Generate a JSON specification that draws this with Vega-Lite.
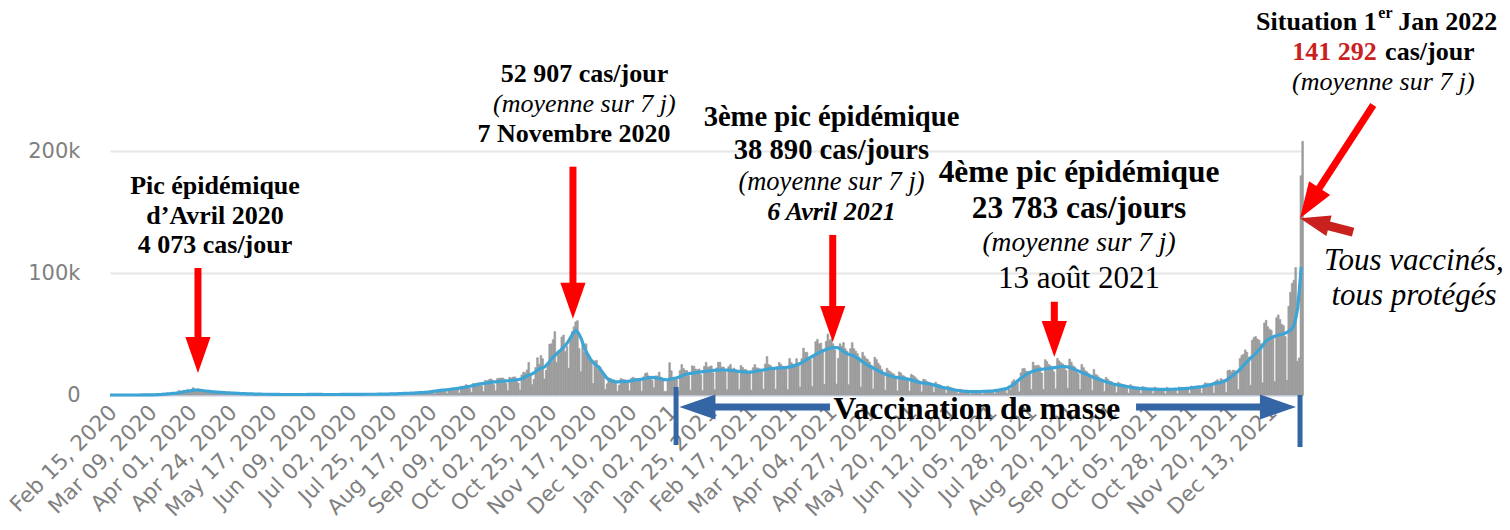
{
"$schema":"https://vega.github.io/schema/vega-lite/v6.json",
"width":1193,"height":256,
"autosize":{"type":"none"},
"padding":{"left":110,"top":139,"right":207,"bottom":135},
"background":"#ffffff",
"config":{"view":{"stroke":null}},
"datasets":{
"cases":[
{"d":"2020-02-13","c":0,"m":0},{"d":"2020-02-14","c":0,"m":0},{"d":"2020-02-15","c":0,"m":0},{"d":"2020-02-16","c":0,"m":0},{"d":"2020-02-17","c":0,"m":0},{"d":"2020-02-18","c":0,"m":0},{"d":"2020-02-19","c":0,"m":0},{"d":"2020-02-20","c":0,"m":0},{"d":"2020-02-21","c":0,"m":0},{"d":"2020-02-22","c":0,"m":0},{"d":"2020-02-23","c":0,"m":0},{"d":"2020-02-24","c":0,"m":0},{"d":"2020-02-25","c":0.01,"m":0},{"d":"2020-02-26","c":0.01,"m":0.01},{"d":"2020-02-27","c":0.02,"m":0.01},{"d":"2020-02-28","c":0.04,"m":0.01},{"d":"2020-02-29","c":0.04,"m":0.02},
{"d":"2020-03-01","c":0.03,"m":0.02},{"d":"2020-03-02","c":0.04,"m":0.03},{"d":"2020-03-03","c":0.06,"m":0.03},{"d":"2020-03-04","c":0.07,"m":0.04},{"d":"2020-03-05","c":0.14,"m":0.06},{"d":"2020-03-06","c":0.1,"m":0.08},{"d":"2020-03-07","c":0.18,"m":0.09},{"d":"2020-03-08","c":0.2,"m":0.11},{"d":"2020-03-09","c":0.3,"m":0.15},{"d":"2020-03-10","c":0.4,"m":0.2},{"d":"2020-03-11","c":0.5,"m":0.26},{"d":"2020-03-12","c":0.6,"m":0.33},{"d":"2020-03-13","c":0.8,"m":0.43},{"d":"2020-03-14","c":0.8,"m":0.54},{"d":"2020-03-15","c":0.9,"m":0.64},{"d":"2020-03-16","c":1.2,"m":0.79},{"d":"2020-03-17","c":1.1,"m":0.91},{"d":"2020-03-18","c":1.4,"m":1.04},{"d":"2020-03-19","c":1.9,"m":1.2},{"d":"2020-03-20","c":1.6,"m":1.3},{"d":"2020-03-21","c":1.8,"m":1.4},{"d":"2020-03-22","c":1.6,"m":1.5},{"d":"2020-03-23","c":3.8,"m":1.8},{"d":"2020-03-24","c":2.4,"m":2.0},{"d":"2020-03-25","c":2.9,"m":2.3},{"d":"2020-03-26","c":3.9,"m":2.6},{"d":"2020-03-27","c":3.8,"m":2.9},{"d":"2020-03-28","c":4.6,"m":3.1},{"d":"2020-03-29","c":2.6,"m":3.2},{"d":"2020-03-30","c":4.4,"m":3.4},{"d":"2020-03-31","c":6.0,"m":3.7},
{"d":"2020-04-01","c":4.9,"m":4.0},{"d":"2020-04-02","c":3.9,"m":4.1},{"d":"2020-04-03","c":5.0,"m":4.1},{"d":"2020-04-04","c":4.3,"m":4.0},{"d":"2020-04-05","c":2.5,"m":3.9},{"d":"2020-04-06","c":3.5,"m":3.7},{"d":"2020-04-07","c":3.4,"m":3.5},{"d":"2020-04-08","c":3.6,"m":3.3},{"d":"2020-04-09","c":3.2,"m":3.1},{"d":"2020-04-10","c":3.0,"m":3.0},{"d":"2020-04-11","c":2.6,"m":2.8},{"d":"2020-04-12","c":2.3,"m":2.6},{"d":"2020-04-13","c":2.2,"m":2.5},{"d":"2020-04-14","c":2.8,"m":2.4},{"d":"2020-04-15","c":2.4,"m":2.3},{"d":"2020-04-16","c":2.1,"m":2.2},{"d":"2020-04-17","c":1.9,"m":2.1},{"d":"2020-04-18","c":1.8,"m":2.0},{"d":"2020-04-19","c":1.2,"m":1.9},{"d":"2020-04-20","c":1.9,"m":1.8},{"d":"2020-04-21","c":2.0,"m":1.8},{"d":"2020-04-22","c":1.7,"m":1.7},{"d":"2020-04-23","c":1.6,"m":1.6},{"d":"2020-04-24","c":1.5,"m":1.5},{"d":"2020-04-25","c":1.4,"m":1.5},{"d":"2020-04-26","c":0.9,"m":1.4},{"d":"2020-04-27","c":1.3,"m":1.3},{"d":"2020-04-28","c":0.9,"m":1.2},{"d":"2020-04-29","c":1.2,"m":1.2},{"d":"2020-04-30","c":1.0,"m":1.1},
{"d":"2020-05-01","c":0.9,"m":1.1},{"d":"2020-05-02","c":0.8,"m":1.0},{"d":"2020-05-03","c":0.6,"m":1.0},{"d":"2020-05-04","c":0.8,"m":0.9},{"d":"2020-05-05","c":0.9,"m":0.9},{"d":"2020-05-06","c":0.8,"m":0.8},{"d":"2020-05-07","c":0.7,"m":0.8},{"d":"2020-05-08","c":0.6,"m":0.7},{"d":"2020-05-09","c":0.6,"m":0.7},{"d":"2020-05-10","c":0.4,"m":0.7},{"d":"2020-05-11","c":0.5,"m":0.6},{"d":"2020-05-12","c":0.6,"m":0.6},{"d":"2020-05-13","c":0.6,"m":0.6},{"d":"2020-05-14","c":0.5,"m":0.6},{"d":"2020-05-15","c":0.5,"m":0.5},{"d":"2020-05-16","c":0.4,"m":0.5},{"d":"2020-05-17","c":0.3,"m":0.5},{"d":"2020-05-18","c":0.4,"m":0.5},{"d":"2020-05-19","c":0.5,"m":0.5},{"d":"2020-05-20","c":0.5,"m":0.5},{"d":"2020-05-21","c":0.4,"m":0.4},{"d":"2020-05-22","c":0.4,"m":0.4},{"d":"2020-05-23","c":0.3,"m":0.4},{"d":"2020-05-24","c":0.3,"m":0.4},{"d":"2020-05-25","c":0.3,"m":0.4},{"d":"2020-05-26","c":0.4,"m":0.4},{"d":"2020-05-27","c":0.4,"m":0.4},{"d":"2020-05-28","c":0.3,"m":0.4},{"d":"2020-05-29","c":0.4,"m":0.4},{"d":"2020-05-30","c":0.4,"m":0.4},{"d":"2020-05-31","c":0.3,"m":0.4},
{"d":"2020-06-01","c":0.3,"m":0.4},{"d":"2020-06-02","c":0.5,"m":0.4},{"d":"2020-06-03","c":0.5,"m":0.4},{"d":"2020-06-04","c":0.5,"m":0.4},{"d":"2020-06-05","c":0.6,"m":0.4},{"d":"2020-06-06","c":0.5,"m":0.5},{"d":"2020-06-07","c":0.4,"m":0.5},{"d":"2020-06-08","c":0.3,"m":0.5},{"d":"2020-06-09","c":0.5,"m":0.5},{"d":"2020-06-10","c":0.5,"m":0.5},{"d":"2020-06-11","c":0.5,"m":0.5},{"d":"2020-06-12","c":0.5,"m":0.5},{"d":"2020-06-13","c":0.4,"m":0.5},{"d":"2020-06-14","c":0.4,"m":0.5},{"d":"2020-06-15","c":0.3,"m":0.4},{"d":"2020-06-16","c":0.4,"m":0.4},{"d":"2020-06-17","c":0.5,"m":0.4},{"d":"2020-06-18","c":0.5,"m":0.4},{"d":"2020-06-19","c":0.5,"m":0.4},{"d":"2020-06-20","c":0.4,"m":0.4},{"d":"2020-06-21","c":0.3,"m":0.4},{"d":"2020-06-22","c":0.3,"m":0.4},{"d":"2020-06-23","c":0.5,"m":0.4},{"d":"2020-06-24","c":0.5,"m":0.4},{"d":"2020-06-25","c":0.5,"m":0.5},{"d":"2020-06-26","c":0.6,"m":0.5},{"d":"2020-06-27","c":0.5,"m":0.5},{"d":"2020-06-28","c":0.4,"m":0.5},{"d":"2020-06-29","c":0.3,"m":0.5},{"d":"2020-06-30","c":0.5,"m":0.5},
{"d":"2020-07-01","c":0.6,"m":0.5},{"d":"2020-07-02","c":0.6,"m":0.5},{"d":"2020-07-03","c":0.6,"m":0.5},{"d":"2020-07-04","c":0.5,"m":0.5},{"d":"2020-07-05","c":0.4,"m":0.5},{"d":"2020-07-06","c":0.4,"m":0.5},{"d":"2020-07-07","c":0.6,"m":0.5},{"d":"2020-07-08","c":0.6,"m":0.5},{"d":"2020-07-09","c":0.7,"m":0.6},{"d":"2020-07-10","c":0.7,"m":0.6},{"d":"2020-07-11","c":0.6,"m":0.6},{"d":"2020-07-12","c":0.5,"m":0.6},{"d":"2020-07-13","c":0.4,"m":0.6},{"d":"2020-07-14","c":0.6,"m":0.6},{"d":"2020-07-15","c":0.7,"m":0.6},{"d":"2020-07-16","c":0.8,"m":0.7},{"d":"2020-07-17","c":0.8,"m":0.7},{"d":"2020-07-18","c":0.8,"m":0.7},{"d":"2020-07-19","c":0.6,"m":0.7},{"d":"2020-07-20","c":0.5,"m":0.8},{"d":"2020-07-21","c":0.9,"m":0.8},{"d":"2020-07-22","c":1.0,"m":0.8},{"d":"2020-07-23","c":1.1,"m":0.9},{"d":"2020-07-24","c":1.1,"m":0.9},{"d":"2020-07-25","c":1.0,"m":1.0},{"d":"2020-07-26","c":0.8,"m":1.0},{"d":"2020-07-27","c":0.6,"m":1.0},{"d":"2020-07-28","c":1.2,"m":1.1},{"d":"2020-07-29","c":1.4,"m":1.1},{"d":"2020-07-30","c":1.4,"m":1.2},{"d":"2020-07-31","c":1.5,"m":1.3},
{"d":"2020-08-01","c":1.4,"m":1.3},{"d":"2020-08-02","c":1.1,"m":1.4},{"d":"2020-08-03","c":0.5,"m":1.4},{"d":"2020-08-04","c":1.9,"m":1.5},{"d":"2020-08-05","c":1.8,"m":1.5},{"d":"2020-08-06","c":1.9,"m":1.6},{"d":"2020-08-07","c":2.0,"m":1.7},{"d":"2020-08-08","c":2.0,"m":1.8},{"d":"2020-08-09","c":1.5,"m":1.9},{"d":"2020-08-10","c":0.6,"m":1.9},{"d":"2020-08-11","c":2.5,"m":2.0},{"d":"2020-08-12","c":2.5,"m":2.1},{"d":"2020-08-13","c":2.7,"m":2.2},{"d":"2020-08-14","c":2.8,"m":2.4},{"d":"2020-08-15","c":2.9,"m":2.6},{"d":"2020-08-16","c":2.2,"m":2.8},{"d":"2020-08-17","c":0.9,"m":3.0},{"d":"2020-08-18","c":4.0,"m":3.2},{"d":"2020-08-19","c":4.1,"m":3.4},{"d":"2020-08-20","c":4.5,"m":3.6},{"d":"2020-08-21","c":4.4,"m":3.8},{"d":"2020-08-22","c":4.4,"m":4.0},{"d":"2020-08-23","c":3.3,"m":4.1},{"d":"2020-08-24","c":1.3,"m":4.2},{"d":"2020-08-25","c":5.3,"m":4.3},{"d":"2020-08-26","c":5.2,"m":4.5},{"d":"2020-08-27","c":5.8,"m":4.7},{"d":"2020-08-28","c":5.6,"m":4.9},{"d":"2020-08-29","c":5.4,"m":5.1},{"d":"2020-08-30","c":4.2,"m":5.3},{"d":"2020-08-31","c":1.6,"m":5.5},
{"d":"2020-09-01","c":7.2,"m":5.7},{"d":"2020-09-02","c":7.0,"m":5.9},{"d":"2020-09-03","c":7.4,"m":6.1},{"d":"2020-09-04","c":8.5,"m":6.4},{"d":"2020-09-05","c":7.8,"m":6.7},{"d":"2020-09-06","c":5.6,"m":7.0},{"d":"2020-09-07","c":2.2,"m":7.2},{"d":"2020-09-08","c":9.5,"m":7.5},{"d":"2020-09-09","c":9.4,"m":7.8},{"d":"2020-09-10","c":9.8,"m":8.1},{"d":"2020-09-11","c":9.9,"m":8.4},{"d":"2020-09-12","c":10.0,"m":8.7},{"d":"2020-09-13","c":7.5,"m":9.0},{"d":"2020-09-14","c":2.8,"m":9.3},{"d":"2020-09-15","c":12.0,"m":9.5},{"d":"2020-09-16","c":11.6,"m":9.7},{"d":"2020-09-17","c":12.4,"m":9.9},{"d":"2020-09-18","c":13.2,"m":10.1},{"d":"2020-09-19","c":12.5,"m":10.3},{"d":"2020-09-20","c":8.4,"m":10.5},{"d":"2020-09-21","c":3.4,"m":10.7},{"d":"2020-09-22","c":13.5,"m":10.8},{"d":"2020-09-23","c":13.8,"m":11.0},{"d":"2020-09-24","c":13.9,"m":11.1},{"d":"2020-09-25","c":14.0,"m":11.2},{"d":"2020-09-26","c":13.0,"m":11.4},{"d":"2020-09-27","c":9.5,"m":11.5},{"d":"2020-09-28","c":3.5,"m":11.6},{"d":"2020-09-29","c":14.5,"m":11.7},{"d":"2020-09-30","c":13.9,"m":11.9},
{"d":"2020-10-01","c":14.7,"m":12.0},{"d":"2020-10-02","c":14.9,"m":12.1},{"d":"2020-10-03","c":13.5,"m":12.3},{"d":"2020-10-04","c":9.8,"m":12.5},{"d":"2020-10-05","c":4.0,"m":12.7},{"d":"2020-10-06","c":16.5,"m":13.0},{"d":"2020-10-07","c":18.8,"m":13.6},{"d":"2020-10-08","c":18.2,"m":14.2},{"d":"2020-10-09","c":20.6,"m":15.0},{"d":"2020-10-10","c":26.8,"m":15.8},{"d":"2020-10-11","c":16.1,"m":16.5},{"d":"2020-10-12","c":8.5,"m":16.8},{"d":"2020-10-13","c":12.9,"m":17.5},{"d":"2020-10-14","c":22.6,"m":18.5},{"d":"2020-10-15","c":30.6,"m":19.5},{"d":"2020-10-16","c":25.1,"m":20.5},{"d":"2020-10-17","c":32.4,"m":21.5},{"d":"2020-10-18","c":29.8,"m":22.0},{"d":"2020-10-19","c":13.2,"m":22.5},{"d":"2020-10-20","c":20.4,"m":23.0},{"d":"2020-10-21","c":26.7,"m":24.5},{"d":"2020-10-22","c":41.6,"m":26.0},{"d":"2020-10-23","c":42.0,"m":28.0},{"d":"2020-10-24","c":45.4,"m":30.0},{"d":"2020-10-25","c":52.0,"m":31.5},{"d":"2020-10-26","c":26.8,"m":32.5},{"d":"2020-10-27","c":33.4,"m":34.0},{"d":"2020-10-28","c":36.4,"m":35.5},{"d":"2020-10-29","c":47.6,"m":36.5},{"d":"2020-10-30","c":49.2,"m":38.0},{"d":"2020-10-31","c":35.6,"m":39.5},
{"d":"2020-11-01","c":40.0,"m":41.0},{"d":"2020-11-02","c":22.0,"m":43.0},{"d":"2020-11-03","c":45.0,"m":45.0},{"d":"2020-11-04","c":52.0,"m":47.5},{"d":"2020-11-05","c":56.0,"m":50.0},{"d":"2020-11-06","c":60.0,"m":52.0},{"d":"2020-11-07","c":61.0,"m":52.9},{"d":"2020-11-08","c":38.0,"m":51.5},{"d":"2020-11-09","c":19.0,"m":49.0},{"d":"2020-11-10","c":44.0,"m":46.0},{"d":"2020-11-11","c":35.0,"m":42.0},{"d":"2020-11-12","c":42.0,"m":38.0},{"d":"2020-11-13","c":33.0,"m":35.0},{"d":"2020-11-14","c":32.0,"m":32.5},{"d":"2020-11-15","c":27.0,"m":30.0},{"d":"2020-11-16","c":9.4,"m":28.0},{"d":"2020-11-17","c":28.0,"m":26.5},{"d":"2020-11-18","c":28.4,"m":25.0},{"d":"2020-11-19","c":21.0,"m":24.0},{"d":"2020-11-20","c":23.0,"m":23.0},{"d":"2020-11-21","c":19.0,"m":21.0},{"d":"2020-11-22","c":16.0,"m":19.0},{"d":"2020-11-23","c":4.5,"m":17.0},{"d":"2020-11-24","c":9.2,"m":15.0},{"d":"2020-11-25","c":14.0,"m":13.5},{"d":"2020-11-26","c":13.6,"m":12.5},{"d":"2020-11-27","c":12.5,"m":11.8},{"d":"2020-11-28","c":12.5,"m":11.3},{"d":"2020-11-29","c":11.0,"m":11.0},{"d":"2020-11-30","c":3.0,"m":10.8},
{"d":"2020-12-01","c":8.1,"m":10.8},{"d":"2020-12-02","c":13.5,"m":10.9},{"d":"2020-12-03","c":13.0,"m":11.0},{"d":"2020-12-04","c":12.6,"m":11.0},{"d":"2020-12-05","c":11.5,"m":11.0},{"d":"2020-12-06","c":11.0,"m":11.1},{"d":"2020-12-07","c":3.4,"m":11.2},{"d":"2020-12-08","c":13.7,"m":11.5},{"d":"2020-12-09","c":14.6,"m":11.8},{"d":"2020-12-10","c":13.8,"m":12.0},{"d":"2020-12-11","c":13.4,"m":12.2},{"d":"2020-12-12","c":12.9,"m":12.4},{"d":"2020-12-13","c":11.5,"m":12.6},{"d":"2020-12-14","c":3.1,"m":12.8},{"d":"2020-12-15","c":14.9,"m":13.0},{"d":"2020-12-16","c":17.6,"m":13.3},{"d":"2020-12-17","c":18.2,"m":13.6},{"d":"2020-12-18","c":15.7,"m":14.0},{"d":"2020-12-19","c":13.7,"m":14.2},{"d":"2020-12-20","c":12.0,"m":14.3},{"d":"2020-12-21","c":5.9,"m":14.4},{"d":"2020-12-22","c":15.7,"m":14.3},{"d":"2020-12-23","c":15.6,"m":14.0},{"d":"2020-12-24","c":18.7,"m":13.8},{"d":"2020-12-25","c":14.6,"m":13.6},{"d":"2020-12-26","c":12.5,"m":13.2},{"d":"2020-12-27","c":3.0,"m":12.8},{"d":"2020-12-28","c":2.9,"m":12.6},{"d":"2020-12-29","c":11.4,"m":12.5},{"d":"2020-12-30","c":26.5,"m":12.6},{"d":"2020-12-31","c":19.9,"m":13.0},
{"d":"2021-01-01","c":14.0,"m":13.2},{"d":"2021-01-02","c":12.5,"m":13.5},{"d":"2021-01-03","c":12.6,"m":13.8},{"d":"2021-01-04","c":3.4,"m":14.2},{"d":"2021-01-05","c":20.0,"m":14.6},{"d":"2021-01-06","c":25.0,"m":15.2},{"d":"2021-01-07","c":21.7,"m":15.8},{"d":"2021-01-08","c":20.2,"m":16.5},{"d":"2021-01-09","c":20.0,"m":17.0},{"d":"2021-01-10","c":15.9,"m":17.3},{"d":"2021-01-11","c":3.9,"m":17.5},{"d":"2021-01-12","c":23.9,"m":17.8},{"d":"2021-01-13","c":23.6,"m":18.0},{"d":"2021-01-14","c":21.3,"m":18.2},{"d":"2021-01-15","c":20.6,"m":18.4},{"d":"2021-01-16","c":21.4,"m":18.6},{"d":"2021-01-17","c":16.6,"m":18.8},{"d":"2021-01-18","c":3.7,"m":19.0},{"d":"2021-01-19","c":23.6,"m":19.2},{"d":"2021-01-20","c":26.8,"m":19.4},{"d":"2021-01-21","c":22.8,"m":19.6},{"d":"2021-01-22","c":23.3,"m":19.8},{"d":"2021-01-23","c":23.9,"m":20.0},{"d":"2021-01-24","c":18.3,"m":20.1},{"d":"2021-01-25","c":4.2,"m":20.2},{"d":"2021-01-26","c":22.2,"m":20.3},{"d":"2021-01-27","c":26.9,"m":20.4},{"d":"2021-01-28","c":26.9,"m":20.4},{"d":"2021-01-29","c":22.9,"m":20.5},{"d":"2021-01-30","c":23.0,"m":20.5},{"d":"2021-01-31","c":19.2,"m":20.5},
{"d":"2021-02-01","c":4.3,"m":20.5},{"d":"2021-02-02","c":23.3,"m":20.4},{"d":"2021-02-03","c":25.0,"m":20.3},{"d":"2021-02-04","c":21.1,"m":20.2},{"d":"2021-02-05","c":22.1,"m":20.1},{"d":"2021-02-06","c":20.6,"m":19.9},{"d":"2021-02-07","c":19.7,"m":19.7},{"d":"2021-02-08","c":4.3,"m":19.5},{"d":"2021-02-09","c":24.3,"m":19.3},{"d":"2021-02-10","c":22.6,"m":19.1},{"d":"2021-02-11","c":21.0,"m":19.0},{"d":"2021-02-12","c":20.8,"m":18.9},{"d":"2021-02-13","c":19.0,"m":18.8},{"d":"2021-02-14","c":18.1,"m":18.8},{"d":"2021-02-15","c":4.0,"m":18.8},{"d":"2021-02-16","c":22.4,"m":18.9},{"d":"2021-02-17","c":25.0,"m":19.1},{"d":"2021-02-18","c":22.3,"m":19.4},{"d":"2021-02-19","c":22.0,"m":19.7},{"d":"2021-02-20","c":21.0,"m":20.0},{"d":"2021-02-21","c":19.0,"m":20.2},{"d":"2021-02-22","c":4.8,"m":20.4},{"d":"2021-02-23","c":25.4,"m":20.6},{"d":"2021-02-24","c":31.5,"m":20.9},{"d":"2021-02-25","c":25.0,"m":21.2},{"d":"2021-02-26","c":24.2,"m":21.5},{"d":"2021-02-27","c":22.0,"m":21.7},{"d":"2021-02-28","c":21.1,"m":21.8},
{"d":"2021-03-01","c":4.7,"m":21.9},{"d":"2021-03-02","c":23.3,"m":22.0},{"d":"2021-03-03","c":26.8,"m":22.1},{"d":"2021-03-04","c":25.3,"m":22.2},{"d":"2021-03-05","c":23.5,"m":22.3},{"d":"2021-03-06","c":23.3,"m":22.4},{"d":"2021-03-07","c":21.8,"m":22.5},{"d":"2021-03-08","c":4.4,"m":22.6},{"d":"2021-03-09","c":29.9,"m":22.8},{"d":"2021-03-10","c":26.6,"m":23.1},{"d":"2021-03-11","c":25.2,"m":23.5},{"d":"2021-03-12","c":25.2,"m":23.9},{"d":"2021-03-13","c":29.8,"m":24.3},{"d":"2021-03-14","c":26.3,"m":24.8},{"d":"2021-03-15","c":6.5,"m":25.3},{"d":"2021-03-16","c":29.9,"m":26.0},{"d":"2021-03-17","c":38.5,"m":26.8},{"d":"2021-03-18","c":34.9,"m":27.6},{"d":"2021-03-19","c":35.1,"m":28.5},{"d":"2021-03-20","c":30.6,"m":29.4},{"d":"2021-03-21","c":29.3,"m":30.2},{"d":"2021-03-22","c":7.0,"m":31.0},{"d":"2021-03-23","c":30.9,"m":31.8},{"d":"2021-03-24","c":43.7,"m":32.6},{"d":"2021-03-25","c":45.6,"m":33.4},{"d":"2021-03-26","c":41.9,"m":34.2},{"d":"2021-03-27","c":42.6,"m":35.0},{"d":"2021-03-28","c":37.0,"m":35.7},{"d":"2021-03-29","c":8.8,"m":36.3},{"d":"2021-03-30","c":44.0,"m":36.9},{"d":"2021-03-31","c":50.0,"m":37.4},
{"d":"2021-04-01","c":45.0,"m":38.0},{"d":"2021-04-02","c":46.0,"m":38.4},{"d":"2021-04-03","c":42.0,"m":38.7},{"d":"2021-04-04","c":37.0,"m":38.9},{"d":"2021-04-05","c":9.0,"m":38.9},{"d":"2021-04-06","c":30.0,"m":38.9},{"d":"2021-04-07","c":42.0,"m":38.5},{"d":"2021-04-08","c":40.0,"m":37.5},{"d":"2021-04-09","c":43.0,"m":36.5},{"d":"2021-04-10","c":38.0,"m":35.5},{"d":"2021-04-11","c":36.0,"m":34.5},{"d":"2021-04-12","c":8.5,"m":33.8},{"d":"2021-04-13","c":38.0,"m":33.2},{"d":"2021-04-14","c":43.0,"m":33.0},{"d":"2021-04-15","c":38.0,"m":32.5},{"d":"2021-04-16","c":36.0,"m":31.8},{"d":"2021-04-17","c":34.0,"m":31.0},{"d":"2021-04-18","c":31.0,"m":30.0},{"d":"2021-04-19","c":6.5,"m":29.0},{"d":"2021-04-20","c":35.0,"m":28.0},{"d":"2021-04-21","c":32.0,"m":27.0},{"d":"2021-04-22","c":30.0,"m":26.0},{"d":"2021-04-23","c":29.0,"m":25.0},{"d":"2021-04-24","c":27.0,"m":24.2},{"d":"2021-04-25","c":24.5,"m":23.5},{"d":"2021-04-26","c":5.0,"m":22.8},{"d":"2021-04-27","c":31.0,"m":22.0},{"d":"2021-04-28","c":29.0,"m":21.2},{"d":"2021-04-29","c":26.0,"m":20.5},{"d":"2021-04-30","c":24.0,"m":19.8},
{"d":"2021-05-01","c":21.0,"m":19.0},{"d":"2021-05-02","c":18.0,"m":18.3},{"d":"2021-05-03","c":4.0,"m":17.6},{"d":"2021-05-04","c":22.0,"m":17.0},{"d":"2021-05-05","c":20.0,"m":16.5},{"d":"2021-05-06","c":19.0,"m":16.0},{"d":"2021-05-07","c":18.0,"m":15.6},{"d":"2021-05-08","c":17.0,"m":15.2},{"d":"2021-05-09","c":15.0,"m":14.8},{"d":"2021-05-10","c":3.3,"m":14.5},{"d":"2021-05-11","c":19.0,"m":14.2},{"d":"2021-05-12","c":18.0,"m":14.0},{"d":"2021-05-13","c":16.0,"m":13.8},{"d":"2021-05-14","c":15.5,"m":13.6},{"d":"2021-05-15","c":14.0,"m":13.4},{"d":"2021-05-16","c":13.0,"m":13.2},{"d":"2021-05-17","c":3.2,"m":13.0},{"d":"2021-05-18","c":17.0,"m":12.6},{"d":"2021-05-19","c":16.0,"m":12.2},{"d":"2021-05-20","c":15.0,"m":11.8},{"d":"2021-05-21","c":13.5,"m":11.4},{"d":"2021-05-22","c":12.0,"m":11.0},{"d":"2021-05-23","c":11.0,"m":10.6},{"d":"2021-05-24","c":2.5,"m":10.3},{"d":"2021-05-25","c":13.0,"m":10.0},{"d":"2021-05-26","c":12.5,"m":9.8},{"d":"2021-05-27","c":11.0,"m":9.6},{"d":"2021-05-28","c":10.5,"m":9.5},{"d":"2021-05-29","c":9.5,"m":9.2},{"d":"2021-05-30","c":9.0,"m":8.9},{"d":"2021-05-31","c":2.0,"m":8.5},
{"d":"2021-06-01","c":10.5,"m":8.1},{"d":"2021-06-02","c":9.0,"m":7.7},{"d":"2021-06-03","c":8.5,"m":7.3},{"d":"2021-06-04","c":8.0,"m":6.9},{"d":"2021-06-05","c":7.0,"m":6.5},{"d":"2021-06-06","c":6.5,"m":6.2},{"d":"2021-06-07","c":1.5,"m":5.9},{"d":"2021-06-08","c":7.3,"m":5.6},{"d":"2021-06-09","c":6.5,"m":5.3},{"d":"2021-06-10","c":5.8,"m":5.0},{"d":"2021-06-11","c":5.4,"m":4.7},{"d":"2021-06-12","c":4.8,"m":4.4},{"d":"2021-06-13","c":4.2,"m":4.1},{"d":"2021-06-14","c":1.0,"m":3.9},{"d":"2021-06-15","c":4.8,"m":3.7},{"d":"2021-06-16","c":4.2,"m":3.5},{"d":"2021-06-17","c":3.8,"m":3.3},{"d":"2021-06-18","c":3.6,"m":3.1},{"d":"2021-06-19","c":3.2,"m":3.0},{"d":"2021-06-20","c":2.9,"m":2.9},{"d":"2021-06-21","c":0.6,"m":2.8},{"d":"2021-06-22","c":3.6,"m":2.7},{"d":"2021-06-23","c":3.2,"m":2.7},{"d":"2021-06-24","c":3.0,"m":2.7},{"d":"2021-06-25","c":2.9,"m":2.7},{"d":"2021-06-26","c":2.9,"m":2.7},{"d":"2021-06-27","c":2.7,"m":2.8},{"d":"2021-06-28","c":0.6,"m":2.8},{"d":"2021-06-29","c":3.5,"m":2.9},{"d":"2021-06-30","c":3.4,"m":3.0},
{"d":"2021-07-01","c":3.6,"m":3.0},{"d":"2021-07-02","c":3.6,"m":3.1},{"d":"2021-07-03","c":3.4,"m":3.2},{"d":"2021-07-04","c":3.2,"m":3.3},{"d":"2021-07-05","c":0.9,"m":3.4},{"d":"2021-07-06","c":4.6,"m":3.6},{"d":"2021-07-07","c":4.5,"m":3.8},{"d":"2021-07-08","c":4.8,"m":4.0},{"d":"2021-07-09","c":5.1,"m":4.3},{"d":"2021-07-10","c":5.0,"m":4.6},{"d":"2021-07-11","c":4.9,"m":4.9},{"d":"2021-07-12","c":1.2,"m":5.2},{"d":"2021-07-13","c":7.3,"m":5.6},{"d":"2021-07-14","c":4.3,"m":6.3},{"d":"2021-07-15","c":10.9,"m":7.2},{"d":"2021-07-16","c":12.6,"m":8.2},{"d":"2021-07-17","c":11.0,"m":9.3},{"d":"2021-07-18","c":10.5,"m":10.5},{"d":"2021-07-19","c":2.5,"m":11.7},{"d":"2021-07-20","c":18.2,"m":12.9},{"d":"2021-07-21","c":21.5,"m":14.0},{"d":"2021-07-22","c":21.9,"m":15.0},{"d":"2021-07-23","c":19.6,"m":16.0},{"d":"2021-07-24","c":19.4,"m":16.9},{"d":"2021-07-25","c":17.6,"m":17.7},{"d":"2021-07-26","c":4.5,"m":18.4},{"d":"2021-07-27","c":27.0,"m":19.0},{"d":"2021-07-28","c":24.0,"m":19.5},{"d":"2021-07-29","c":24.0,"m":20.0},{"d":"2021-07-30","c":24.5,"m":20.4},{"d":"2021-07-31","c":23.0,"m":20.7},
{"d":"2021-08-01","c":18.0,"m":20.9},{"d":"2021-08-02","c":4.5,"m":21.1},{"d":"2021-08-03","c":29.0,"m":21.3},{"d":"2021-08-04","c":27.5,"m":21.5},{"d":"2021-08-05","c":25.0,"m":21.7},{"d":"2021-08-06","c":24.0,"m":21.9},{"d":"2021-08-07","c":22.5,"m":22.1},{"d":"2021-08-08","c":19.0,"m":22.3},{"d":"2021-08-09","c":5.0,"m":22.5},{"d":"2021-08-10","c":30.0,"m":22.7},{"d":"2021-08-11","c":28.0,"m":22.9},{"d":"2021-08-12","c":26.5,"m":23.2},{"d":"2021-08-13","c":25.5,"m":23.5},{"d":"2021-08-14","c":24.0,"m":23.5},{"d":"2021-08-15","c":20.0,"m":23.4},{"d":"2021-08-16","c":5.5,"m":23.2},{"d":"2021-08-17","c":29.5,"m":22.9},{"d":"2021-08-18","c":27.0,"m":22.5},{"d":"2021-08-19","c":24.0,"m":22.0},{"d":"2021-08-20","c":23.0,"m":21.4},{"d":"2021-08-21","c":21.0,"m":20.8},{"d":"2021-08-22","c":17.5,"m":20.2},{"d":"2021-08-23","c":4.5,"m":19.6},{"d":"2021-08-24","c":25.0,"m":19.0},{"d":"2021-08-25","c":22.5,"m":18.4},{"d":"2021-08-26","c":20.0,"m":17.8},{"d":"2021-08-27","c":19.0,"m":17.2},{"d":"2021-08-28","c":17.5,"m":16.6},{"d":"2021-08-29","c":15.0,"m":16.0},{"d":"2021-08-30","c":3.5,"m":15.4},{"d":"2021-08-31","c":21.0,"m":14.8},
{"d":"2021-09-01","c":17.0,"m":14.2},{"d":"2021-09-02","c":16.0,"m":13.7},{"d":"2021-09-03","c":14.5,"m":13.2},{"d":"2021-09-04","c":13.0,"m":12.7},{"d":"2021-09-05","c":11.5,"m":12.2},{"d":"2021-09-06","c":2.8,"m":11.7},{"d":"2021-09-07","c":14.5,"m":11.2},{"d":"2021-09-08","c":13.0,"m":10.7},{"d":"2021-09-09","c":11.5,"m":10.3},{"d":"2021-09-10","c":11.0,"m":9.9},{"d":"2021-09-11","c":9.5,"m":9.4},{"d":"2021-09-12","c":8.5,"m":9.0},{"d":"2021-09-13","c":1.9,"m":8.7},{"d":"2021-09-14","c":10.5,"m":8.4},{"d":"2021-09-15","c":9.5,"m":8.1},{"d":"2021-09-16","c":9.0,"m":7.9},{"d":"2021-09-17","c":8.5,"m":7.7},{"d":"2021-09-18","c":7.5,"m":7.5},{"d":"2021-09-19","c":7.0,"m":7.2},{"d":"2021-09-20","c":1.4,"m":6.9},{"d":"2021-09-21","c":8.5,"m":6.6},{"d":"2021-09-22","c":7.5,"m":6.3},{"d":"2021-09-23","c":7.0,"m":6.1},{"d":"2021-09-24","c":6.5,"m":5.9},{"d":"2021-09-25","c":6.0,"m":5.7},{"d":"2021-09-26","c":5.5,"m":5.6},{"d":"2021-09-27","c":1.2,"m":5.4},{"d":"2021-09-28","c":7.0,"m":5.3},{"d":"2021-09-29","c":6.5,"m":5.2},{"d":"2021-09-30","c":6.0,"m":5.1},
{"d":"2021-10-01","c":5.5,"m":5.0},{"d":"2021-10-02","c":5.0,"m":4.9},{"d":"2021-10-03","c":4.8,"m":4.9},{"d":"2021-10-04","c":1.0,"m":4.8},{"d":"2021-10-05","c":6.5,"m":4.8},{"d":"2021-10-06","c":5.8,"m":4.7},{"d":"2021-10-07","c":5.4,"m":4.7},{"d":"2021-10-08","c":5.2,"m":4.6},{"d":"2021-10-09","c":5.0,"m":4.6},{"d":"2021-10-10","c":4.6,"m":4.6},{"d":"2021-10-11","c":0.9,"m":4.6},{"d":"2021-10-12","c":6.2,"m":4.6},{"d":"2021-10-13","c":5.6,"m":4.6},{"d":"2021-10-14","c":5.4,"m":4.6},{"d":"2021-10-15","c":5.3,"m":4.7},{"d":"2021-10-16","c":5.0,"m":4.7},{"d":"2021-10-17","c":4.8,"m":4.8},{"d":"2021-10-18","c":1.0,"m":4.8},{"d":"2021-10-19","c":6.6,"m":4.9},{"d":"2021-10-20","c":6.1,"m":5.0},{"d":"2021-10-21","c":5.7,"m":5.1},{"d":"2021-10-22","c":5.6,"m":5.2},{"d":"2021-10-23","c":5.4,"m":5.3},{"d":"2021-10-24","c":5.2,"m":5.4},{"d":"2021-10-25","c":1.2,"m":5.5},{"d":"2021-10-26","c":7.4,"m":5.6},{"d":"2021-10-27","c":6.9,"m":5.8},{"d":"2021-10-28","c":6.6,"m":6.0},{"d":"2021-10-29","c":6.4,"m":6.2},{"d":"2021-10-30","c":6.2,"m":6.4},{"d":"2021-10-31","c":5.9,"m":6.6},
{"d":"2021-11-01","c":1.5,"m":6.8},{"d":"2021-11-02","c":8.0,"m":7.0},{"d":"2021-11-03","c":10.0,"m":7.3},{"d":"2021-11-04","c":9.5,"m":7.6},{"d":"2021-11-05","c":9.3,"m":7.9},{"d":"2021-11-06","c":9.0,"m":8.2},{"d":"2021-11-07","c":8.0,"m":8.5},{"d":"2021-11-08","c":1.5,"m":8.9},{"d":"2021-11-09","c":11.5,"m":9.3},{"d":"2021-11-10","c":12.5,"m":9.6},{"d":"2021-11-11","c":11.0,"m":9.9},{"d":"2021-11-12","c":13.5,"m":10.2},{"d":"2021-11-13","c":12.5,"m":10.5},{"d":"2021-11-14","c":11.0,"m":10.9},{"d":"2021-11-15","c":2.0,"m":11.5},{"d":"2021-11-16","c":20.0,"m":12.3},{"d":"2021-11-17","c":20.5,"m":13.2},{"d":"2021-11-18","c":19.0,"m":14.3},{"d":"2021-11-19","c":20.5,"m":15.4},{"d":"2021-11-20","c":20.0,"m":16.5},{"d":"2021-11-21","c":18.5,"m":17.6},{"d":"2021-11-22","c":4.5,"m":18.7},{"d":"2021-11-23","c":30.0,"m":20.0},{"d":"2021-11-24","c":32.5,"m":21.5},{"d":"2021-11-25","c":33.5,"m":23.0},{"d":"2021-11-26","c":37.0,"m":24.5},{"d":"2021-11-27","c":35.0,"m":26.0},{"d":"2021-11-28","c":31.0,"m":27.5},{"d":"2021-11-29","c":8.0,"m":29.0},{"d":"2021-11-30","c":45.0,"m":30.5},
{"d":"2021-12-01","c":47.2,"m":31.5},{"d":"2021-12-02","c":48.0,"m":33.0},{"d":"2021-12-03","c":46.0,"m":34.5},{"d":"2021-12-04","c":45.0,"m":36.0},{"d":"2021-12-05","c":42.0,"m":37.5},{"d":"2021-12-06","c":10.0,"m":39.0},{"d":"2021-12-07","c":59.0,"m":41.0},{"d":"2021-12-08","c":61.3,"m":43.0},{"d":"2021-12-09","c":56.0,"m":44.5},{"d":"2021-12-10","c":54.0,"m":45.5},{"d":"2021-12-11","c":53.0,"m":46.5},{"d":"2021-12-12","c":48.0,"m":47.2},{"d":"2021-12-13","c":11.0,"m":47.8},{"d":"2021-12-14","c":63.4,"m":48.3},{"d":"2021-12-15","c":65.7,"m":48.8},{"d":"2021-12-16","c":62.0,"m":49.2},{"d":"2021-12-17","c":58.0,"m":49.5},{"d":"2021-12-18","c":57.0,"m":49.8},{"d":"2021-12-19","c":48.0,"m":50.2},{"d":"2021-12-20","c":12.0,"m":50.8},{"d":"2021-12-21","c":72.8,"m":51.5},{"d":"2021-12-22","c":84.3,"m":52.5},{"d":"2021-12-23","c":91.6,"m":53.5},{"d":"2021-12-24","c":94.1,"m":55.0},{"d":"2021-12-25","c":104.6,"m":58.0},{"d":"2021-12-26","c":27.7,"m":64.0},{"d":"2021-12-27","c":30.4,"m":72.2},{"d":"2021-12-28","c":179.8,"m":87.5},{"d":"2021-12-29","c":208.1,"m":105.2}
]},
"layer":[
{"data":{"name":"cases"},
 "mark":{"type":"bar","color":"#9c9c9c","stroke":"#9c9c9c","strokeWidth":0.6,"binSpacing":0},
 "encoding":{
  "x":{"field":"d","timeUnit":"utcyearmonthdate","type":"temporal","title":null,
   "scale":{"type":"utc","domain":[{"year":2020,"month":2,"date":13,"utc":true},{"year":2021,"month":12,"date":30,"utc":true}]},
   "axis":{"values":[{"year":2020,"month":2,"date":15,"utc":true},{"year":2020,"month":3,"date":9,"utc":true},{"year":2020,"month":4,"date":1,"utc":true},{"year":2020,"month":4,"date":24,"utc":true},{"year":2020,"month":5,"date":17,"utc":true},{"year":2020,"month":6,"date":9,"utc":true},{"year":2020,"month":7,"date":2,"utc":true},{"year":2020,"month":7,"date":25,"utc":true},{"year":2020,"month":8,"date":17,"utc":true},{"year":2020,"month":9,"date":9,"utc":true},{"year":2020,"month":10,"date":2,"utc":true},{"year":2020,"month":10,"date":25,"utc":true},{"year":2020,"month":11,"date":17,"utc":true},{"year":2020,"month":12,"date":10,"utc":true},{"year":2021,"month":1,"date":2,"utc":true},{"year":2021,"month":1,"date":25,"utc":true},{"year":2021,"month":2,"date":17,"utc":true},{"year":2021,"month":3,"date":12,"utc":true},{"year":2021,"month":4,"date":4,"utc":true},{"year":2021,"month":4,"date":27,"utc":true},{"year":2021,"month":5,"date":20,"utc":true},{"year":2021,"month":6,"date":12,"utc":true},{"year":2021,"month":7,"date":5,"utc":true},{"year":2021,"month":7,"date":28,"utc":true},{"year":2021,"month":8,"date":20,"utc":true},{"year":2021,"month":9,"date":12,"utc":true},{"year":2021,"month":10,"date":5,"utc":true},{"year":2021,"month":10,"date":28,"utc":true},{"year":2021,"month":11,"date":20,"utc":true},{"year":2021,"month":12,"date":13,"utc":true}],
    "format":"%b %d, %Y","labelAngle":-45,"labelAlign":"right","labelBaseline":"middle","labelFont":"DejaVu Sans","labelFontSize":21.5,"labelColor":"#808080","ticks":false,"grid":false,"domainColor":"#ccd6eb","domainWidth":2,"labelPadding":14,"labelOffset":0,"labelOverlap":false,"labelBound":false,"labelFlush":false,"title":null}},
  "y":{"field":"c","type":"quantitative","title":null,
   "scale":{"domain":[0,210],"nice":false,"zero":true},
   "axis":{"values":[0,100,200],"labelExpr":"datum.value == 0 ? '0' : datum.value + 'k'","grid":true,"gridColor":"#e6e6e6","gridWidth":2,"domain":false,"ticks":false,"labelFont":"DejaVu Sans","labelFontSize":21,"labelColor":"#808080","labelPadding":30,"title":null}}
 }},
{"data":{"name":"cases"},
 "mark":{"type":"line","color":"#3da5d5","strokeWidth":3.2},
 "encoding":{
  "x":{"field":"d","timeUnit":"utcyearmonthdate","type":"temporal","title":null},
  "y":{"field":"m","type":"quantitative","title":null}
 }},
{"data":{"values":[
 {"x":"2020-04-03T14:00Z","x2":"2020-04-03T14:00Z","y":104.2,"y2":45.1,"col":"#ff0000","w":7},
 {"x":"2020-11-05T05:00Z","x2":"2020-11-05T05:00Z","y":187.3,"y2":89.4,"col":"#ff0000","w":7},
 {"x":"2021-04-03T14:00Z","x2":"2021-04-03T14:00Z","y":131.3,"y2":68.0,"col":"#ff0000","w":7},
 {"x":"2021-08-09T00:00Z","x2":"2021-08-09T00:00Z","y":76.5,"y2":57.4,"col":"#ff0000","w":7},
 {"x":"2022-02-08T10:00Z","x2":"2022-01-06T12:00Z","y":237.9,"y2":165.7,"col":"#ff0000","w":7},
 {"x":"2022-01-27T19:00Z","x2":"2022-01-11T14:00Z","y":133.7,"y2":139.5,"col":"#c9211e","w":9},
 {"x":"2021-01-03T12:00Z","x2":"2021-01-03T12:00Z","y":6.6,"y2":-41.0,"col":"#3465a4","w":5},
 {"x":"2021-12-28T07:00Z","x2":"2021-12-28T07:00Z","y":0,"y2":-42.7,"col":"#3465a4","w":5},
 {"x":"2021-01-20T02:00Z","x2":"2021-04-02T00:00Z","y":-9.84,"y2":-9.84,"col":"#3465a4","w":7},
 {"x":"2021-09-25T00:00Z","x2":"2021-12-13T22:00Z","y":-9.84,"y2":-9.84,"col":"#3465a4","w":7}
 ]},
 "mark":{"type":"rule","strokeCap":"butt","clip":false},
 "encoding":{
  "x":{"field":"x","type":"temporal","title":null},
  "x2":{"field":"x2"},
  "y":{"field":"y","type":"quantitative","title":null},
  "y2":{"field":"y2"},
  "color":{"field":"col","type":"nominal","scale":null},
  "strokeWidth":{"field":"w","type":"quantitative","scale":null}
 }},
{"data":{"values":[
 {"x":"2020-04-03T14:00Z","y":32.8,"col":"#ff0000","a":0,"s":1296},
 {"x":"2020-11-05T05:00Z","y":77.3,"col":"#ff0000","a":0,"s":1296},
 {"x":"2021-04-03T14:00Z","y":58.2,"col":"#ff0000","a":0,"s":1296},
 {"x":"2021-08-09T00:00Z","y":45.9,"col":"#ff0000","a":0,"s":1296},
 {"x":"2022-01-02T22:00Z","y":157.3,"col":"#ff0000","a":33,"s":1296},
 {"x":"2022-01-05T14:00Z","y":141.9,"col":"#c9211e","a":104.5,"s":900},
 {"x":"2021-01-15T19:00Z","y":-9.84,"col":"#3465a4","a":90,"s":1296},
 {"x":"2021-12-15T14:00Z","y":-9.84,"col":"#3465a4","a":270,"s":1296}
 ]},
 "mark":{"type":"point","shape":"M-0.7,-1L0.7,-1L0,1Z","filled":true,"opacity":1,"strokeWidth":0,"clip":false},
 "encoding":{
  "x":{"field":"x","type":"temporal","title":null},
  "y":{"field":"y","type":"quantitative","title":null},
  "color":{"field":"col","type":"nominal","scale":null},
  "size":{"field":"s","type":"quantitative","scale":null},
  "angle":{"field":"a","type":"quantitative","scale":null}
 }},
{"data":{"values":[
 {"x":"2020-04-13T09:00Z","y":164.6,"t":"Pic épidémique","s":26},
 {"x":"2020-04-13T09:00Z","y":140.0,"t":"d’Avril 2020","s":26},
 {"x":"2020-04-13T09:00Z","y":116.2,"t":"4 073 cas/jour","s":26},
 {"x":"2020-11-11T19:00Z","y":256.5,"t":"52 907 cas/jour","s":26},
 {"x":"2020-11-05T19:00Z","y":207.8,"t":"7 Novembre 2020","s":26},
 {"x":"2021-04-02T21:00Z","y":220.9,"t":"3ème pic épidémique","s":28.6},
 {"x":"2021-04-02T21:00Z","y":193.6,"t":"38 890 cas/jours","s":28.6},
 {"x":"2021-08-23T05:00Z","y":175.0,"t":"4ème pic épidémique","s":31.4},
 {"x":"2021-08-23T05:00Z","y":145.0,"t":"23 783 cas/jours","s":31.4},
 {"x":"2021-06-25T12:00Z","y":-19.7,"t":"Vaccination de masse","s":31.6}
 ]},
 "mark":{"type":"text","font":"Liberation Serif","fontWeight":"bold","align":"center","baseline":"alphabetic","color":"#000000","clip":false},
 "encoding":{
  "x":{"field":"x","type":"temporal","title":null},
  "y":{"field":"y","type":"quantitative","title":null},
  "text":{"field":"t","type":"nominal"},
  "size":{"field":"s","type":"quantitative","scale":null}
 }},
{"data":{"values":[
 {"x":"2020-11-11T19:00Z","y":231.9,"t":"(moyenne sur 7 j)","s":26},
 {"x":"2021-04-02T21:00Z","y":168.2,"t":"(moyenne sur 7 j)","s":26.5},
 {"x":"2021-08-23T05:00Z","y":118.4,"t":"(moyenne sur 7 j)","s":27.5},
 {"x":"2022-02-14T05:00Z","y":250.2,"t":"(moyenne sur 7 j)","s":26},
 {"x":"2022-03-03T19:00Z","y":102.5,"t":"Tous vaccinés,","s":31},
 {"x":"2022-03-03T19:00Z","y":73.8,"t":"tous protégés","s":31}
 ]},
 "mark":{"type":"text","font":"Liberation Serif","fontStyle":"italic","align":"center","baseline":"alphabetic","color":"#000000","clip":false},
 "encoding":{
  "x":{"field":"x","type":"temporal","title":null},
  "y":{"field":"y","type":"quantitative","title":null},
  "text":{"field":"t","type":"nominal"},
  "size":{"field":"s","type":"quantitative","scale":null}
 }},
{"data":{"values":[
 {"x":"2021-08-23T05:00Z","y":87.5,"t":"13 août 2021","s":31}
 ]},
 "mark":{"type":"text","font":"Liberation Serif","align":"center","baseline":"alphabetic","color":"#000000","clip":false},
 "encoding":{
  "x":{"field":"x","type":"temporal","title":null},
  "y":{"field":"y","type":"quantitative","title":null},
  "text":{"field":"t","type":"nominal"},
  "size":{"field":"s","type":"quantitative","scale":null}
 }},
{"data":{"values":[
 {"x":"2021-04-02T21:00Z","y":143.6,"t":"6 Avril 2021","s":26}
 ]},
 "mark":{"type":"text","font":"Liberation Serif","fontWeight":"bold","fontStyle":"italic","align":"center","baseline":"alphabetic","color":"#000000","clip":false},
 "encoding":{
  "x":{"field":"x","type":"temporal","title":null},
  "y":{"field":"y","type":"quantitative","title":null},
  "text":{"field":"t","type":"nominal"},
  "size":{"field":"s","type":"quantitative","scale":null}
 }},
{"data":{"values":[
 {"x":"2022-02-10T10:00Z","y":299.4,"t":"Situation 1","s":26}
 ]},
 "mark":{"type":"text","font":"Liberation Serif","fontWeight":"bold","align":"right","baseline":"alphabetic","color":"#000000","clip":false},
 "encoding":{
  "x":{"field":"x","type":"temporal","title":null},
  "y":{"field":"y","type":"quantitative","title":null},
  "text":{"field":"t","type":"nominal"},
  "size":{"field":"s","type":"quantitative","scale":null}
 }},
{"data":{"values":[
 {"x":"2022-02-11T07:00Z","y":309.0,"t":"er","s":16},
 {"x":"2022-02-22T19:00Z","y":299.4,"t":"Jan 2022","s":26},
 {"x":"2022-02-15T05:00Z","y":274.8,"t":"cas/jour","s":26}
 ]},
 "mark":{"type":"text","font":"Liberation Serif","fontWeight":"bold","align":"left","baseline":"alphabetic","color":"#000000","clip":false},
 "encoding":{
  "x":{"field":"x","type":"temporal","title":null},
  "y":{"field":"y","type":"quantitative","title":null},
  "text":{"field":"t","type":"nominal"},
  "size":{"field":"s","type":"quantitative","scale":null}
 }},
{"data":{"values":[
 {"x":"2022-02-10T10:00Z","y":274.8,"t":"141 292","s":26}
 ]},
 "mark":{"type":"text","font":"Liberation Serif","fontWeight":"bold","align":"right","baseline":"alphabetic","color":"#c9211e","clip":false},
 "encoding":{
  "x":{"field":"x","type":"temporal","title":null},
  "y":{"field":"y","type":"quantitative","title":null},
  "text":{"field":"t","type":"nominal"},
  "size":{"field":"s","type":"quantitative","scale":null}
 }}
]
}
